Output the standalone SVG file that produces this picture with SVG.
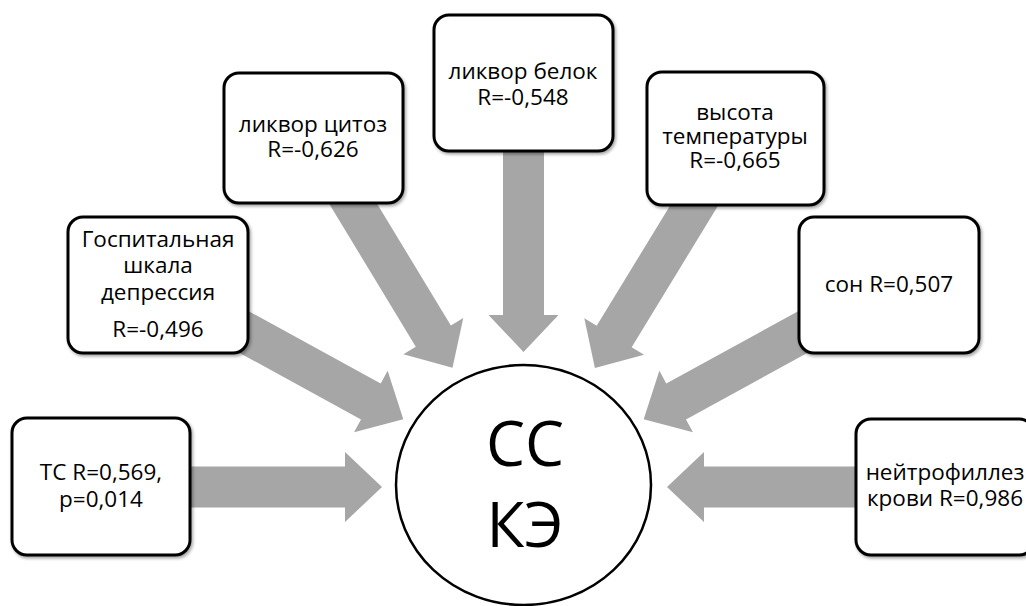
<svg xmlns="http://www.w3.org/2000/svg" xmlns:xlink="http://www.w3.org/1999/xlink" width="1026" height="606" viewBox="0 0 1026 606">
<style>
.box{fill:#fff;stroke:#000;stroke-width:3}
.t{font-family:"Open Sans","Noto Sans",sans-serif;font-size:22.5px;fill:#000;text-anchor:middle}
.big{font-family:"Open Sans","Noto Sans",sans-serif;font-size:62px;fill:#000;text-anchor:middle}
.arrow{fill:#a6a6a6}
</style>
<defs>
<path id="arr" d="M-280,-20.5 L-37,-20.5 L-37,-35 L0,0 L-37,35 L-37,20.5 L-280,20.5 Z"/>
<filter id="sh" x="-10%" y="-10%" width="130%" height="130%">
<feDropShadow dx="1.5" dy="2" stdDeviation="1.5" flood-color="#000" flood-opacity="0.35"/>
</filter>
</defs>
<rect width="1026" height="606" fill="#fff"/>
<g id="connectors" class="arrow">
<use xlink:href="#arr" transform="translate(382,487)"/>
<use xlink:href="#arr" transform="translate(403.3,419.2) rotate(28.7)"/>
<use xlink:href="#arr" transform="translate(452.5,367.8) rotate(58.8)"/>
<use xlink:href="#arr" transform="translate(523.5,352) rotate(90)"/>
<use xlink:href="#arr" transform="translate(594.9,368.1) rotate(121.4)"/>
<use xlink:href="#arr" transform="translate(643.7,419.2) rotate(151.3)"/>
<use xlink:href="#arr" transform="translate(667,487) rotate(180)"/>
</g>
<g id="center">
<ellipse cx="523.5" cy="485" rx="127.5" ry="120" fill="#fff" stroke="#000" stroke-width="2.5"/>
<text class="big" x="525" y="466">СС</text>
<text class="big" x="525" y="547">КЭ</text>
</g>
<g id="n-ts">
<rect class="box" filter="url(#sh)" x="12" y="418" width="178" height="137" rx="15"/>
<text class="t" x="101" y="480">ТС R=0,569,</text>
<text class="t" x="101" y="507">р=0,014</text>
</g>
<g id="n-hosp">
<rect class="box" filter="url(#sh)" x="68" y="217" width="180" height="136" rx="15"/>
<text class="t" x="158" y="247">Госпитальная</text>
<text class="t" x="158" y="273">шкала</text>
<text class="t" x="158" y="300">депрессия</text>
<text class="t" x="158" y="337">R=-0,496</text>
</g>
<g id="n-cytosis">
<rect class="box" filter="url(#sh)" x="224" y="73" width="179" height="130" rx="15"/>
<text class="t" x="313" y="132">ликвор цитоз</text>
<text class="t" x="313" y="157">R=-0,626</text>
</g>
<g id="n-protein">
<rect class="box" filter="url(#sh)" x="434" y="15" width="179" height="136" rx="15"/>
<text class="t" x="523" y="79">ликвор белок</text>
<text class="t" x="523" y="105">R=-0,548</text>
</g>
<g id="n-temp">
<rect class="box" filter="url(#sh)" x="647" y="72" width="177" height="133" rx="15"/>
<text class="t" x="735" y="120">высота</text>
<text class="t" x="735" y="144">температуры</text>
<text class="t" x="735" y="168">R=-0,665</text>
</g>
<g id="n-sleep">
<rect class="box" filter="url(#sh)" x="799" y="217" width="180" height="136" rx="15"/>
<text class="t" x="889" y="292">сон R=0,507</text>
</g>
<g id="n-neutro">
<rect class="box" filter="url(#sh)" x="856" y="419" width="178" height="136" rx="15"/>
<text class="t" x="945" y="480">нейтрофиллез</text>
<text class="t" x="945" y="506">крови R=0,986</text>
</g>
</svg>
